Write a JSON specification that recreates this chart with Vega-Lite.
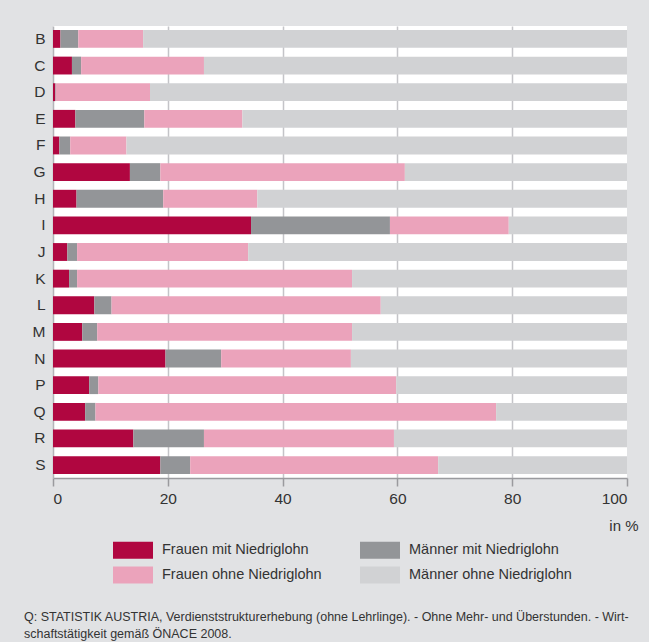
{
  "$schema": "https://vega.github.io/schema/vega-lite/v6.json",
  "width": 574,
  "height": 452,
  "autosize": {"type": "none"},
  "padding": {"left": 53, "top": 26, "right": 22, "bottom": 164},
  "background": "#e1e2e4",
  "config": {
    "font": "Liberation Sans",
    "view": {"fill": "white", "stroke": null}
  },
  "title": {
    "text": ["Q: STATISTIK AUSTRIA, Verdienststrukturerhebung (ohne Lehrlinge). - Ohne Mehr- und Überstunden. - Wirt-", "schaftstätigkeit gemäß ÖNACE 2008."],
    "orient": "bottom",
    "anchor": "start",
    "frame": "group",
    "dx": -29,
    "offset": 27,
    "fontSize": 12.5,
    "fontWeight": "normal",
    "color": "#333333",
    "lineHeight": 17,
    "baseline": "top"
  },
  "data": {
    "values": [
      {"k":"B","s":"Frauen mit Niedriglohn","n":1,"v":1.3},{"k":"B","s":"Männer mit Niedriglohn","n":2,"v":3.1},{"k":"B","s":"Frauen ohne Niedriglohn","n":3,"v":11.3},{"k":"B","s":"Männer ohne Niedriglohn","n":4,"v":84.3},
      {"k":"C","s":"Frauen mit Niedriglohn","n":1,"v":3.3},{"k":"C","s":"Männer mit Niedriglohn","n":2,"v":1.6},{"k":"C","s":"Frauen ohne Niedriglohn","n":3,"v":21.4},{"k":"C","s":"Männer ohne Niedriglohn","n":4,"v":73.7},
      {"k":"D","s":"Frauen mit Niedriglohn","n":1,"v":0.4},{"k":"D","s":"Männer mit Niedriglohn","n":2,"v":0.1},{"k":"D","s":"Frauen ohne Niedriglohn","n":3,"v":16.4},{"k":"D","s":"Männer ohne Niedriglohn","n":4,"v":83.1},
      {"k":"E","s":"Frauen mit Niedriglohn","n":1,"v":3.9},{"k":"E","s":"Männer mit Niedriglohn","n":2,"v":12.0},{"k":"E","s":"Frauen ohne Niedriglohn","n":3,"v":17.1},{"k":"E","s":"Männer ohne Niedriglohn","n":4,"v":67.0},
      {"k":"F","s":"Frauen mit Niedriglohn","n":1,"v":1.1},{"k":"F","s":"Männer mit Niedriglohn","n":2,"v":1.9},{"k":"F","s":"Frauen ohne Niedriglohn","n":3,"v":9.8},{"k":"F","s":"Männer ohne Niedriglohn","n":4,"v":87.2},
      {"k":"G","s":"Frauen mit Niedriglohn","n":1,"v":13.4},{"k":"G","s":"Männer mit Niedriglohn","n":2,"v":5.3},{"k":"G","s":"Frauen ohne Niedriglohn","n":3,"v":42.6},{"k":"G","s":"Männer ohne Niedriglohn","n":4,"v":38.7},
      {"k":"H","s":"Frauen mit Niedriglohn","n":1,"v":4.1},{"k":"H","s":"Männer mit Niedriglohn","n":2,"v":15.1},{"k":"H","s":"Frauen ohne Niedriglohn","n":3,"v":16.4},{"k":"H","s":"Männer ohne Niedriglohn","n":4,"v":64.4},
      {"k":"I","s":"Frauen mit Niedriglohn","n":1,"v":34.5},{"k":"I","s":"Männer mit Niedriglohn","n":2,"v":24.2},{"k":"I","s":"Frauen ohne Niedriglohn","n":3,"v":20.7},{"k":"I","s":"Männer ohne Niedriglohn","n":4,"v":20.6},
      {"k":"J","s":"Frauen mit Niedriglohn","n":1,"v":2.5},{"k":"J","s":"Männer mit Niedriglohn","n":2,"v":1.7},{"k":"J","s":"Frauen ohne Niedriglohn","n":3,"v":29.8},{"k":"J","s":"Männer ohne Niedriglohn","n":4,"v":66.0},
      {"k":"K","s":"Frauen mit Niedriglohn","n":1,"v":2.8},{"k":"K","s":"Männer mit Niedriglohn","n":2,"v":1.4},{"k":"K","s":"Frauen ohne Niedriglohn","n":3,"v":47.9},{"k":"K","s":"Männer ohne Niedriglohn","n":4,"v":47.9},
      {"k":"L","s":"Frauen mit Niedriglohn","n":1,"v":7.2},{"k":"L","s":"Männer mit Niedriglohn","n":2,"v":3.0},{"k":"L","s":"Frauen ohne Niedriglohn","n":3,"v":46.9},{"k":"L","s":"Männer ohne Niedriglohn","n":4,"v":42.9},
      {"k":"M","s":"Frauen mit Niedriglohn","n":1,"v":5.1},{"k":"M","s":"Männer mit Niedriglohn","n":2,"v":2.6},{"k":"M","s":"Frauen ohne Niedriglohn","n":3,"v":44.4},{"k":"M","s":"Männer ohne Niedriglohn","n":4,"v":47.9},
      {"k":"N","s":"Frauen mit Niedriglohn","n":1,"v":19.6},{"k":"N","s":"Männer mit Niedriglohn","n":2,"v":9.7},{"k":"N","s":"Frauen ohne Niedriglohn","n":3,"v":22.6},{"k":"N","s":"Männer ohne Niedriglohn","n":4,"v":48.1},
      {"k":"P","s":"Frauen mit Niedriglohn","n":1,"v":6.3},{"k":"P","s":"Männer mit Niedriglohn","n":2,"v":1.6},{"k":"P","s":"Frauen ohne Niedriglohn","n":3,"v":51.9},{"k":"P","s":"Männer ohne Niedriglohn","n":4,"v":40.2},
      {"k":"Q","s":"Frauen mit Niedriglohn","n":1,"v":5.6},{"k":"Q","s":"Männer mit Niedriglohn","n":2,"v":1.8},{"k":"Q","s":"Frauen ohne Niedriglohn","n":3,"v":69.8},{"k":"Q","s":"Männer ohne Niedriglohn","n":4,"v":22.8},
      {"k":"R","s":"Frauen mit Niedriglohn","n":1,"v":14.0},{"k":"R","s":"Männer mit Niedriglohn","n":2,"v":12.3},{"k":"R","s":"Frauen ohne Niedriglohn","n":3,"v":33.1},{"k":"R","s":"Männer ohne Niedriglohn","n":4,"v":40.6},
      {"k":"S","s":"Frauen mit Niedriglohn","n":1,"v":18.7},{"k":"S","s":"Männer mit Niedriglohn","n":2,"v":5.2},{"k":"S","s":"Frauen ohne Niedriglohn","n":3,"v":43.2},{"k":"S","s":"Männer ohne Niedriglohn","n":4,"v":32.9}
    ]
  },
  "mark": {"type": "bar", "strokeWidth": 0},
  "encoding": {
    "y": {
      "field": "k",
      "type": "nominal",
      "sort": null,
      "scale": {"paddingInner": 0.33, "paddingOuter": 0.15},
      "axis": {
        "title": null,
        "ticks": false,
        "labelPadding": 8,
        "labelFontSize": 15.5,
        "labelColor": "#333333",
        "domainColor": "#b4b4b8",
        "domainWidth": 1.5
      }
    },
    "x": {
      "field": "v",
      "type": "quantitative",
      "stack": "zero",
      "scale": {"domain": [0, 100], "nice": false},
      "axis": {
        "values": [0, 20, 40, 60, 80, 100],
        "title": "in %",
        "titleFontSize": 15,
        "titleFontWeight": "normal",
        "titleColor": "#333333",
        "titleAnchor": "end",
        "titleAlign": "right",
        "titleBaseline": "alphabetic",
        "titleX": 585,
        "titleY": 52,
        "labelFontSize": 15.5,
        "labelColor": "#333333",
        "labelPadding": 5,
        "tickSize": 8,
        "tickColor": "#9a9a9e",
        "tickWidth": 1.5,
        "domainColor": "#9a9a9e",
        "domainWidth": 1.5,
        "gridColor": "#c4c4c8",
        "gridWidth": 1.5,
        "gridOpacity": {"condition": {"test": "datum.value === 0 || datum.value === 100", "value": 0}, "value": 1}
      }
    },
    "color": {
      "field": "s",
      "type": "nominal",
      "scale": {
        "domain": ["Frauen mit Niedriglohn", "Frauen ohne Niedriglohn", "Männer mit Niedriglohn", "Männer ohne Niedriglohn"],
        "range": ["#b00640", "#eba3bb", "#939598", "#d1d2d4"]
      },
      "legend": {
        "title": null,
        "orient": "none",
        "legendX": 70,
        "legendY": 514,
        "columns": 2,
        "columnPadding": 38,
        "rowPadding": 6,
        "symbolType": "M-2,-0.85H2V0.85H-2Z",
        "symbolSize": 400,
        "symbolStrokeWidth": 0,
        "labelFontSize": 14.5,
        "labelColor": "#333333",
        "labelOffset": 19,
        "labelLimit": 300
      }
    },
    "order": {"field": "n", "type": "quantitative"}
  }
}
